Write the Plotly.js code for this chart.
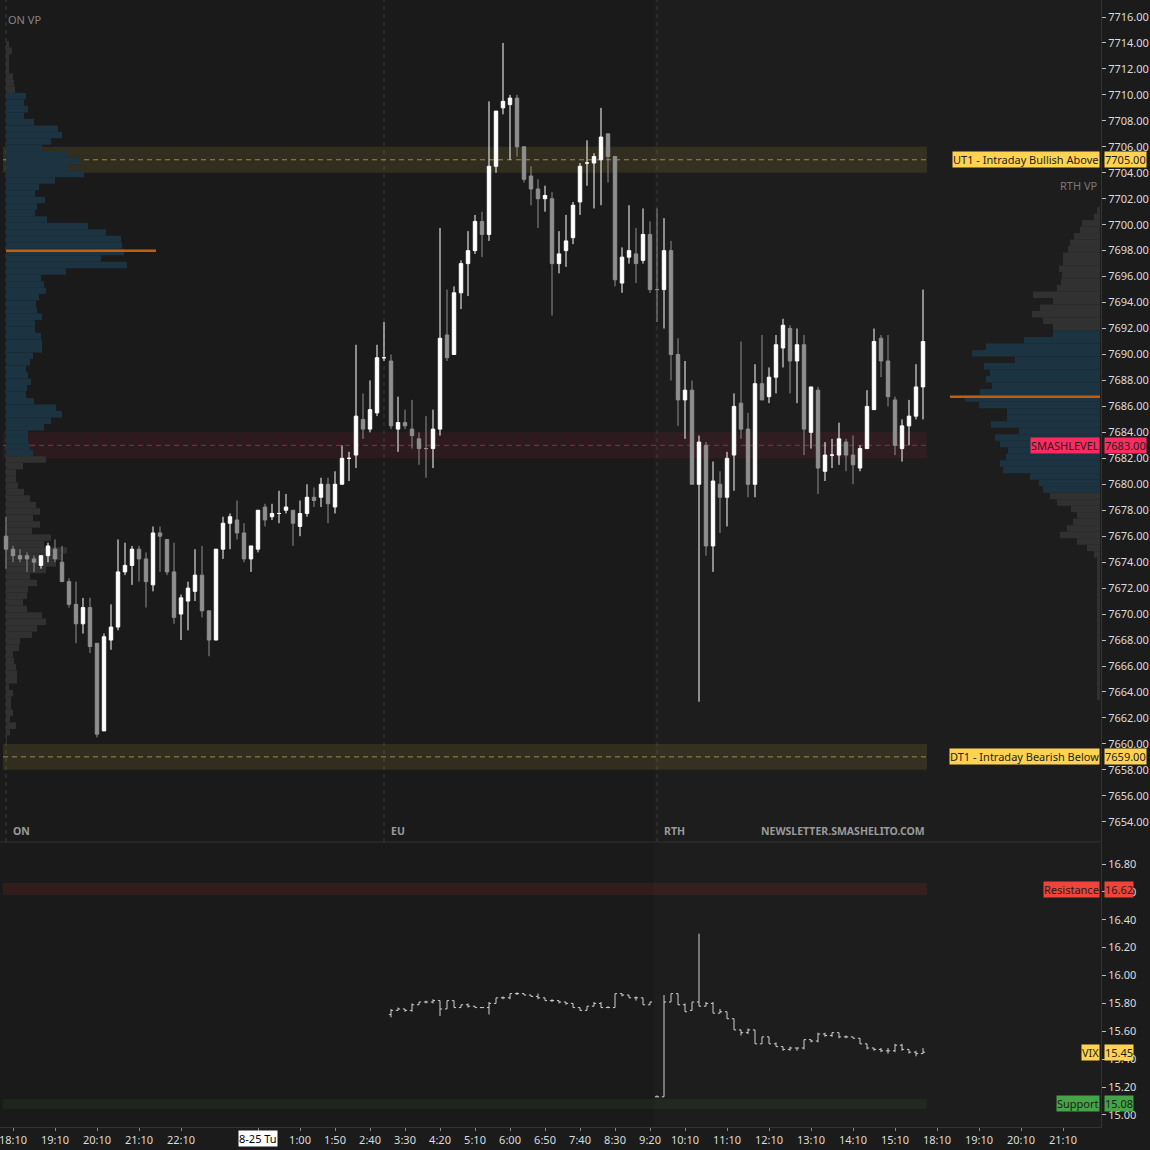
<!DOCTYPE html>
<html><head><meta charset="utf-8">
<script src="https://cdn.plot.ly/plotly-3.0.1.min.js"></script>
<style>html,body{margin:0;padding:0;background:#1b1b1b;}#chart{width:1150px;height:1150px;}</style>
</head><body><div id="chart"></div>
<script>
// ---------------- DATA ----------------
// ES 10-minute candles, 18:00 (8-24) .. 15:50 (8-25)
const open = [7676.0,7675.0,7674.5,7674.5,7674.25,7673.75,7674.5,7675.0,7674.0,7672.5,
7670.75,7669.25,7670.5,7667.75,7661.0,7668.0,7669.0,7673.25,7673.75,7675.0,
7674.25,7672.25,7676.25,7675.75,7673.25,7670.0,7671.0,7671.75,7673.0,7670.25,
7668.0,7675.0,7677.0,7677.25,7676.25,7674.25,7675.0,7678.25,7677.5,7677.75,
7678.0,7678.0,7676.75,7677.75,7679.0,7679.0,7680.0,7678.25,7680.0,7682.0,
7682.25,7685.0,7684.25,7685.5,7689.75,7689.5,7684.25,7684.75,7684.25,7683.5,
7682.75,7682.75,7684.25,7691.5,7690.0,7694.75,7697.0,7698.0,7700.25,7699.25,
7704.5,7709.0,7709.25,7709.75,7706.0,7703.75,7702.75,7702.0,7702.0,7697.0,
7698.0,7699.0,7701.75,7704.75,7704.75,7705.0,7707.0,7705.25,7695.5,7697.5,
7697.75,7697.25,7699.25,7695.0,7695.0,7698.0,7690.0,7686.5,7687.25,7680.0,
7683.0,7675.25,7680.0,7679.0,7682.25,7686.25,7684.25,7680.0,7687.75,7686.75,
7688.25,7690.5,7692.0,7689.5,7690.75,7684.0,7687.25,7681.0,7682.25,7682.25,
7683.25,7682.25,7681.25,7682.75,7685.75,7691.25,7689.5,7686.5,7682.75,7684.5,
7685.25,7687.5];
const high = [7677.5,7675.25,7675.0,7674.75,7674.5,7674.5,7675.5,7675.75,7675.25,7672.75,
7672.5,7671.25,7671.25,7667.75,7668.5,7670.75,7675.75,7675.5,7675.25,7675.25,
7674.75,7676.75,7676.75,7675.75,7675.5,7671.5,7672.5,7675.0,7675.25,7670.25,
7675.0,7677.5,7677.75,7678.75,7677.0,7675.25,7678.0,7678.5,7678.5,7679.5,
7679.25,7678.0,7678.75,7680.0,7679.75,7680.5,7680.5,7681.0,7683.0,7682.5,
7690.75,7687.0,7688.0,7690.75,7692.5,7690.0,7686.75,7685.75,7686.5,7684.0,
7685.25,7685.75,7699.75,7695.0,7695.25,7697.25,7699.5,7700.75,7701.0,7709.5,
7708.75,7714.0,7710.0,7710.0,7706.0,7704.5,7703.5,7703.0,7702.5,7699.5,
7700.75,7701.75,7704.75,7706.5,7705.5,7709.0,7707.0,7705.25,7698.25,7701.5,
7699.75,7701.25,7700.25,7701.25,7700.5,7698.75,7691.25,7689.5,7688.0,7683.75,
7683.25,7681.75,7681.0,7682.5,7687.0,7691.0,7685.5,7689.25,7691.5,7689.0,
7691.5,7692.75,7692.25,7692.0,7691.5,7687.5,7687.5,7683.25,7683.5,7684.75,
7683.5,7683.75,7683.0,7687.25,7692.0,7691.5,7691.5,7686.75,7685.0,7686.5,
7689.25,7695.0];
const low = [7673.5,7674.0,7674.0,7673.25,7673.25,7673.5,7674.0,7674.0,7672.5,7670.5,
7667.75,7668.5,7667.0,7660.5,7661.0,7667.25,7668.75,7673.0,7672.25,7672.5,
7670.5,7671.75,7673.25,7673.0,7669.25,7668.0,7668.75,7671.0,7669.75,7666.75,
7668.0,7674.25,7675.0,7675.75,7674.0,7673.25,7674.75,7676.75,7677.25,7677.0,
7677.75,7675.25,7676.0,7677.5,7678.25,7678.25,7677.0,7677.75,7680.0,7680.25,
7681.25,7683.5,7684.0,7685.25,7689.5,7684.25,7682.5,7684.25,7682.75,7681.5,
7680.5,7681.25,7683.75,7689.5,7690.0,7693.5,7694.5,7697.75,7697.5,7698.75,
7704.0,7708.5,7705.0,7705.25,7703.25,7701.5,7699.75,7701.0,7693.0,7696.25,
7696.75,7698.5,7700.75,7703.0,7701.25,7701.5,7703.25,7695.25,7694.75,7697.0,
7695.5,7697.0,7694.75,7692.5,7692.0,7688.0,7684.5,7683.5,7680.0,7663.25,
7674.5,7673.25,7676.25,7676.75,7679.5,7683.5,7679.0,7679.0,7686.5,7686.25,
7687.0,7689.0,7687.0,7686.25,7682.25,7682.75,7679.25,7680.25,7681.25,7681.5,
7681.0,7680.0,7681.0,7682.75,7685.75,7688.25,7686.0,7682.25,7681.75,7683.0,
7685.0,7685.0];
const close = [7675.0,7674.5,7674.25,7674.25,7674.0,7674.5,7675.25,7674.25,7672.5,7670.75,
7669.25,7670.5,7667.5,7660.75,7668.25,7669.0,7673.25,7673.75,7675.0,7674.25,
7672.5,7676.25,7676.0,7673.25,7669.75,7671.25,7672.0,7673.0,7670.25,7668.0,
7675.0,7677.0,7677.5,7676.25,7674.25,7675.25,7678.0,7677.25,7677.75,7677.75,
7678.25,7677.0,7677.75,7679.0,7678.75,7680.0,7678.5,7680.0,7682.0,7682.0,
7685.25,7684.25,7685.75,7689.75,7689.75,7684.5,7684.75,7684.5,7683.75,7682.75,
7682.75,7684.25,7691.25,7689.75,7694.75,7697.0,7698.0,7700.25,7699.25,7704.5,
7708.75,7709.5,7709.75,7706.0,7703.5,7702.75,7702.0,7702.25,7697.0,7697.75,
7698.75,7701.5,7704.5,7704.75,7705.25,7706.75,7705.25,7695.75,7697.5,7698.0,
7697.0,7699.25,7695.0,7695.0,7698.0,7690.0,7686.5,7687.25,7680.0,7683.25,
7675.25,7680.25,7679.0,7682.0,7686.0,7684.25,7680.0,7687.75,7686.5,7688.25,
7690.75,7692.25,7689.5,7690.75,7684.25,7687.5,7681.25,7682.25,7682.25,7683.5,
7682.25,7681.5,7682.75,7686.0,7691.0,7689.5,7686.75,7683.0,7684.5,7685.25,
7687.5,7691.0];

// VIX 10-minute bars, starting at bar index vixStart
const vixStart = 55;
const vixOpen = [15.72,15.75,15.76,15.75,15.79,15.81,15.81,15.82,15.76,15.82,
15.77,15.79,15.78,15.77,15.77,15.80,15.84,15.84,15.87,15.87,
15.86,15.85,15.84,15.82,15.82,15.81,15.80,15.77,15.75,15.78,
15.80,15.77,15.77,15.87,15.86,15.84,15.84,15.79,15.13,15.13,
15.81,15.87,15.79,15.75,15.81,15.78,15.80,15.73,15.74,15.69,
15.61,15.59,15.61,15.51,15.56,15.51,15.49,15.47,15.48,15.48,
15.54,15.53,15.58,15.57,15.59,15.56,15.56,15.55,15.51,15.48,
15.47,15.46,15.46,15.50,15.47,15.45,15.44];
const vixHigh = [15.76,15.77,15.76,15.80,15.81,15.82,15.83,15.82,15.82,15.82,
15.79,15.80,15.78,15.77,15.81,15.84,15.85,15.87,15.88,15.87,
15.86,15.87,15.84,15.83,15.82,15.81,15.80,15.77,15.78,15.81,
15.81,15.78,15.87,15.87,15.86,15.85,15.84,15.81,15.14,15.86,
15.87,15.87,15.80,15.81,16.30,15.81,15.81,15.76,15.74,15.69,
15.61,15.62,15.61,15.56,15.56,15.52,15.49,15.49,15.48,15.54,
15.54,15.59,15.59,15.59,15.59,15.57,15.56,15.55,15.51,15.48,
15.48,15.48,15.51,15.51,15.47,15.46,15.48];
const vixLow = [15.70,15.75,15.74,15.74,15.79,15.80,15.80,15.71,15.76,15.77,
15.77,15.77,15.77,15.77,15.72,15.80,15.83,15.83,15.86,15.86,
15.85,15.83,15.82,15.81,15.80,15.79,15.77,15.75,15.75,15.78,
15.77,15.77,15.77,15.85,15.84,15.82,15.79,15.79,15.13,15.13,
15.81,15.79,15.74,15.75,15.78,15.78,15.73,15.73,15.69,15.61,
15.57,15.58,15.51,15.51,15.51,15.49,15.46,15.46,15.46,15.47,
15.52,15.52,15.56,15.56,15.55,15.55,15.55,15.51,15.47,15.46,
15.45,15.44,15.45,15.46,15.44,15.42,15.44];
const vixClose = [15.75,15.76,15.75,15.79,15.81,15.81,15.82,15.76,15.82,15.77,
15.79,15.78,15.77,15.77,15.80,15.84,15.84,15.87,15.87,15.86,
15.85,15.84,15.82,15.82,15.81,15.80,15.77,15.75,15.78,15.80,
15.77,15.77,15.87,15.86,15.84,15.84,15.79,15.81,15.13,15.81,
15.87,15.79,15.74,15.81,15.78,15.80,15.73,15.74,15.69,15.61,
15.59,15.61,15.51,15.56,15.51,15.49,15.47,15.48,15.48,15.54,
15.53,15.58,15.57,15.59,15.56,15.56,15.55,15.51,15.48,15.47,
15.46,15.46,15.50,15.47,15.45,15.44,15.45];

// Overnight volume profile (0.5 pt rows)
const onVpPrice = [7714.0,7713.5,7713.0,7712.5,7712.0,7711.5,7711.0,7710.5,7710.0,7709.5,
7709.0,7708.5,7708.0,7707.5,7707.0,7706.5,7706.0,7705.5,7705.0,7704.5,
7704.0,7703.5,7703.0,7702.5,7702.0,7701.5,7701.0,7700.5,7700.0,7699.5,
7699.0,7698.5,7698.0,7697.5,7697.0,7696.5,7696.0,7695.5,7695.0,7694.5,
7694.0,7693.5,7693.0,7692.5,7692.0,7691.5,7691.0,7690.5,7690.0,7689.5,
7689.0,7688.5,7688.0,7687.5,7687.0,7686.5,7686.0,7685.5,7685.0,7684.5,
7684.0,7683.5,7683.0,7682.5,7682.0,7681.5,7681.0,7680.5,7680.0,7679.5,
7679.0,7678.5,7678.0,7677.5,7677.0,7676.5,7676.0,7675.5,7675.0,7674.5,
7674.0,7673.5,7673.0,7672.5,7672.0,7671.5,7671.0,7670.5,7670.0,7669.5,
7669.0,7668.5,7668.0,7667.5,7667.0,7666.5,7666.0,7665.5,7665.0,7664.5,
7664.0,7663.5,7663.0,7662.5,7662.0,7661.5,7661.0,7660.5];
const onVpVol = [3,6,3,3,3,7,8,9,20,18,
22,18,28,52,56,45,36,62,74,62,
78,49,33,29,39,31,29,41,82,100,
115,116,118,95,121,60,35,38,40,33,
30,31,36,29,29,35,36,36,27,24,
20,22,25,21,20,28,50,56,45,38,
22,22,24,27,40,17,10,10,12,18,
24,30,34,27,34,26,45,38,61,57,
50,40,24,31,22,21,17,21,36,40,
31,26,14,13,7,8,10,11,11,3,
7,5,5,7,4,10,4,1];
const onVAH = 7710.0, onVAL = 7682.5, onPOC = 7698.0, onPOCVol = 150;

// RTH volume profile (0.5 pt rows)
const rthVpPrice = [7701.0,7700.5,7700.0,7699.5,7699.0,7698.5,7698.0,7697.5,7697.0,7696.5,
7696.0,7695.5,7695.0,7694.5,7694.0,7693.5,7693.0,7692.5,7692.0,7691.5,
7691.0,7690.5,7690.0,7689.5,7689.0,7688.5,7688.0,7687.5,7687.0,7686.5,
7686.0,7685.5,7685.0,7684.5,7684.0,7683.5,7683.0,7682.5,7682.0,7681.5,
7681.0,7680.5,7680.0,7679.5,7679.0,7678.5,7678.0,7677.5,7677.0,7676.5,
7676.0,7675.5,7675.0,7674.5,7674.0,7673.5,7673.0,7672.5,7672.0,7671.5,
7671.0,7670.5,7670.0,7669.5,7669.0,7668.5,7668.0,7667.5,7667.0,7666.5,
7666.0,7665.5,7665.0,7664.5,7664.0,7663.5];
const rthVpVol = [3,6,18,20,26,30,32,37,37,41,
38,39,43,67,47,60,68,57,47,47,
76,114,128,85,116,110,114,108,120,135,
121,93,93,109,81,105,100,92,94,100,
97,70,61,57,50,43,29,23,27,33,
40,23,13,6,3,3,3,3,3,3,
3,3,3,3,3,3,3,3,3,3,
3,3,3,3,3,3];
const rthVAH = 7691.5, rthVAL = 7679.5, rthPOC = 7686.75, rthPOCVol = 150;

// Levels
const levelNames = ['UT1 - Intraday Bullish Above','SMASHLEVEL','DT1 - Intraday Bearish Below'];
const levelPrices = [7705, 7683, 7659];
const vixLevelNames = ['Resistance','Support'];
const vixLevelPrices = [16.62, 15.08];

// Sessions and time axis
const sessionNames = ['ON','EU','RTH'];
const sessionStart = [0, 54, 93];
const tickIdx = [1,7,13,19,25,36,42,47,52,57,62,67,72,77,82,87,92,97,103,109,115,121,127,133,139,145,151];
const tickText = ['18:10','19:10','20:10','21:10','22:10','','1:00','1:50','2:40','3:30','4:20','5:10','6:00','6:50','7:40','8:30','9:20','10:10','11:10','12:10','13:10','14:10','15:10','18:10','19:10','20:10','21:10'];
const dateLabel = '8-25 Tu', dateIdx = 36;

// ---------------- LAYOUT CONSTANTS ----------------
const PLOT_R = 1101, PLOT_B = 1127, SPLIT = 842;
const BAR_PX = 7, FIRST_PX = 6;
const PX_PER_PT = 12.98, PX_PER_VIX = 139.4;
const pxToIdx = p => (p - FIRST_PX) / BAR_PX;
const xRange = [pxToIdx(0), pxToIdx(PLOT_R)];
const topDomain = [1 - SPLIT / PLOT_B, 1];
const botDomain = [0, 1 - (SPLIT + 1) / PLOT_B];
const pyPaper = p => 1 - p / PLOT_B;
const nBars = open.length;
const idx = open.map((_, i) => i);
const bandL = pxToIdx(3), bandR = nBars - 1 + 0.57;
const rthRightIdx = pxToIdx(1100);

const BLUE = '#1c3341', GRAY = '#313131';
const FONT = 'Noto Sans, Open Sans, sans-serif';

const traces = [];
// ON VP
traces.push({type:'bar', orientation:'h', y:onVpPrice, x:onVpVol.map(v=>v/BAR_PX), base:0, width:0.5,
  marker:{color:onVpPrice.map(p=>(p<=onVAH && p>=onVAL)?BLUE:GRAY), line:{width:0}},
  xaxis:'x', yaxis:'y', hoverinfo:'skip'});
// RTH VP
traces.push({type:'bar', orientation:'h', y:rthVpPrice, x:rthVpVol.map(v=>v/BAR_PX),
  base:rthVpVol.map(v=>rthRightIdx - v/BAR_PX), width:0.5,
  marker:{color:rthVpPrice.map(p=>(p<=rthVAH && p>=rthVAL)?BLUE:GRAY), line:{width:0}},
  xaxis:'x', yaxis:'y', hoverinfo:'skip'});
// POCs
traces.push({type:'scatter', mode:'lines', x:[0, onPOCVol/BAR_PX], y:[onPOC,onPOC],
  line:{color:'#c0600e', width:2.5}, xaxis:'x', yaxis:'y', hoverinfo:'skip'});
traces.push({type:'scatter', mode:'lines', x:[rthRightIdx - rthPOCVol/BAR_PX, rthRightIdx], y:[rthPOC,rthPOC],
  line:{color:'#c0600e', width:2.5}, xaxis:'x', yaxis:'y', hoverinfo:'skip'});
// Candles
traces.push({type:'candlestick', x:idx, open:open, high:high, low:low, close:close,
  increasing:{line:{color:'#ffffff', width:1}, fillcolor:'#ffffff'},
  decreasing:{line:{color:'#8f8f8f', width:1}, fillcolor:'#8f8f8f'},
  whiskerwidth:0, xaxis:'x', yaxis:'y', hoverinfo:'skip'});
// VIX
traces.push({type:'ohlc', x:vixOpen.map((_,i)=>vixStart+i), open:vixOpen, high:vixHigh, low:vixLow, close:vixClose,
  increasing:{line:{color:'#d0d0d0', width:1}}, decreasing:{line:{color:'#d0d0d0', width:1}},
  tickwidth:0.3, xaxis:'x', yaxis:'y2', hoverinfo:'skip'});

const shapes = [];
// RTH session shading
shapes.push({type:'rect', layer:'below', xref:'x', yref:'paper', x0:sessionStart[2]-0.43, x1:xRange[1], y0:0, y1:1,
  fillcolor:'#1d1d1d', line:{width:0}});
const bandFill = ['rgba(255,215,80,0.10)','rgba(255,40,90,0.085)','rgba(255,215,80,0.10)'];
const dashCol = ['#9c8c4e','#9a2a4a','#9c8c4e'];
levelPrices.forEach((p,i)=>{
  shapes.push({type:'rect', layer:'below', xref:'x', yref:'y', x0:bandL, x1:bandR, y0:p-1, y1:p+1,
    fillcolor:bandFill[i], line:{width:0}});
  shapes.push({type:'line', layer:'below', xref:'x', yref:'y', x0:bandL, x1:bandR, y0:p, y1:p,
    line:{color:dashCol[i], width:1, dash:'5px,4px'}});
});
const vixBandFill = ['rgba(255,60,50,0.10)','rgba(76,175,80,0.08)'];
const vixBandHalf = [0.045, 0.035];
vixLevelPrices.forEach((p,i)=>{
  shapes.push({type:'rect', layer:'below', xref:'x', yref:'y2', x0:bandL, x1:bandR, y0:p-vixBandHalf[i], y1:p+vixBandHalf[i],
    fillcolor:vixBandFill[i], line:{width:0}});
});
// session separators (top panel)
sessionStart.forEach(s=>{
  shapes.push({type:'line', layer:'below', xref:'x', yref:'paper', x0:s, x1:s, y0:topDomain[0], y1:1,
    line:{color:'#3a3a3a', width:1, dash:'4px,4px'}});
});
// panel separator
shapes.push({type:'line', xref:'paper', yref:'paper', x0:0, x1:1, y0:topDomain[0], y1:topDomain[0],
  line:{color:'#333333', width:1}});

const annotations = [];
const lvlBg = ['#ffd351','#ff2a60','#ffd351'];
const lblFont = {family:FONT, size:11, color:'#1e1e1e'};
function tag(yref, y, text, bg, right) {
  annotations.push({xref:'paper', yref:yref, x:(right ? 1100 : 1104)/PLOT_R, y:y, xanchor:right?'right':'left', yanchor:'middle',
    text:text, showarrow:false, bgcolor:bg, borderpad:0, font:lblFont});
}
levelPrices.forEach((p,i)=>{ tag('y', p, levelNames[i], lvlBg[i], true); tag('y', p, p.toFixed(2), lvlBg[i], false); });
const vixBg = ['#f0443a','#45a448'];
vixLevelPrices.forEach((p,i)=>{ tag('y2', p, vixLevelNames[i], vixBg[i], true); tag('y2', p, p.toFixed(2), vixBg[i], false); });
const vixLast = vixClose[vixClose.length-1];
tag('y2', vixLast, 'VIX', '#ffd351', true); tag('y2', vixLast, vixLast.toFixed(2), '#ffd351', false);
// VP titles
annotations.push({xref:'x', yref:'paper', x:0, y:pyPaper(20), xanchor:'left', yanchor:'middle', text:'ON VP', showarrow:false,
  font:{family:FONT, size:11, color:'#858585'}});
annotations.push({xref:'paper', yref:'paper', x:1100/PLOT_R, y:pyPaper(185), xanchor:'right', yanchor:'middle', text:'RTH VP', showarrow:false,
  font:{family:FONT, size:11, color:'#7a7a7a'}});
// session labels
sessionNames.forEach((s,i)=>{
  annotations.push({xref:'x', yref:'paper', x:sessionStart[i], xshift:5, y:pyPaper(831), xanchor:'left', yanchor:'middle',
    text:'<b>'+s+'</b>', showarrow:false, font:{family:FONT, size:10.5, color:'#9a9a9a'}});
});
annotations.push({xref:'x', yref:'paper', x:bandR, y:pyPaper(831), xanchor:'right', yanchor:'middle',
  text:'<b>NEWSLETTER.SMASHELITO.COM</b>', showarrow:false, font:{family:FONT, size:10.5, color:'#9a9a9a'}});
// date tick label
annotations.push({xref:'x', yref:'paper', x:dateIdx, y:pyPaper(1138), xanchor:'center', yanchor:'middle', text:dateLabel,
  showarrow:false, bgcolor:'#ffffff', borderpad:0, font:{family:FONT, size:11, color:'#000000'}});

const tickFont = {family:FONT, size:11, color:'#dcdcdc'};
const layout = {
  width:1150, height:1150,
  margin:{l:0, r:1150-PLOT_R, t:0, b:1150-PLOT_B, pad:0},
  paper_bgcolor:'#1b1b1b', plot_bgcolor:'#1a1a1a',
  showlegend:false, hovermode:false, boxgap:0.3, dragmode:false,
  xaxis:{range:xRange, anchor:'y2', showgrid:false, zeroline:false, showline:true, linecolor:'#333333',
    tickmode:'array', tickvals:tickIdx, ticktext:tickText, ticks:'outside', ticklen:3, tickcolor:'#888888',
    tickfont:tickFont, ticklabeloverflow:'allow', rangeslider:{visible:false}, fixedrange:true, automargin:false},
  yaxis:{domain:topDomain, range:[7716 - (SPLIT-17)/PX_PER_PT, 7716 + 17/PX_PER_PT], side:'right', anchor:'x',
    showgrid:false, zeroline:false, showline:true, linecolor:'#333333',
    tickmode:'linear', tick0:7654, dtick:2, tickformat:'.2f', ticks:'outside', ticklen:4, tickcolor:'#bbbbbb',
    tickfont:tickFont, fixedrange:true, automargin:false},
  yaxis2:{domain:botDomain, range:[16.80 - (PLOT_B-864)/PX_PER_VIX, 16.80 + (864-(SPLIT+1))/PX_PER_VIX], side:'right', anchor:'x',
    showgrid:false, zeroline:false, showline:true, linecolor:'#333333',
    tickmode:'linear', tick0:15, dtick:0.2, tickformat:'.2f', ticks:'outside', ticklen:4, tickcolor:'#bbbbbb',
    tickfont:tickFont, fixedrange:true, automargin:false},
  shapes:shapes, annotations:annotations
};

Plotly.newPlot('chart', traces, layout, {staticPlot:true, displayModeBar:false});
</script></body></html>
